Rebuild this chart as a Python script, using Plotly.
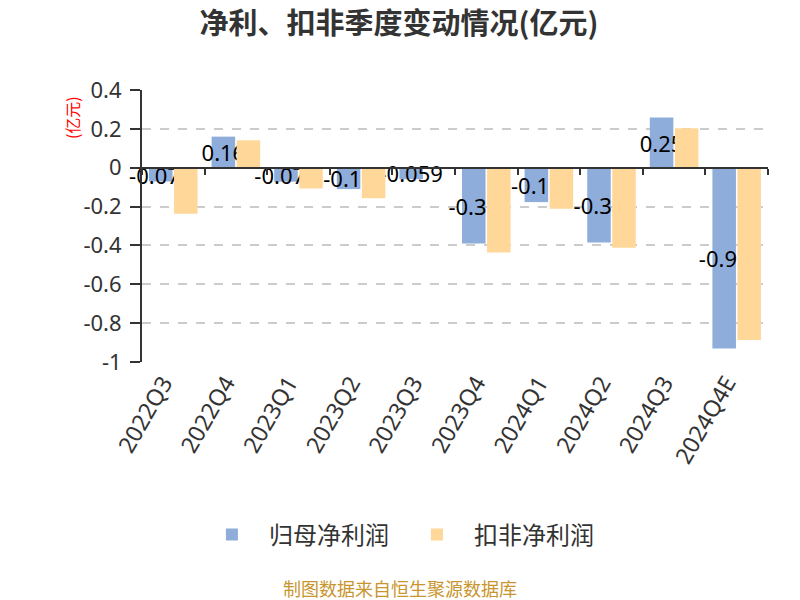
import plotly.graph_objects as go

categories = ["2022Q3", "2022Q4", "2023Q1", "2023Q2", "2023Q3",
              "2023Q4", "2024Q1", "2024Q2", "2024Q3", "2024Q4E"]
net_profit = [-0.071, 0.16, -0.072, -0.11, -0.059, -0.39, -0.177, -0.385, 0.258, -0.93]
net_profit_labels = ["-0.071", "0.16", "-0.072", "-0.11", "-0.059",
                     "-0.39", "-0.17", "-0.38", "0.25", "-0.93"]
deducted_profit = [-0.237, 0.141, -0.107, -0.157, -0.005, -0.437, -0.211, -0.412, 0.203, -0.887]
y_ticks = [0.4, 0.2, 0, -0.2, -0.4, -0.6, -0.8, -1]
y_tick_text = ["0.4", "0.2", "0", "-0.2", "-0.4", "-0.6", "-0.8", "-1"]

FONT = "Noto Sans, Noto Sans CJK SC"
CJK = "Noto Sans CJK SC"
BLUE = "#8EADDB"
ORANGE = "#FFD899"

xs = list(range(len(categories)))

fig = go.Figure()
fig.add_trace(go.Bar(
    x=xs, y=net_profit, name="归母净利润",
    marker=dict(color=BLUE, line=dict(width=0)),
    text=net_profit_labels, textposition="inside", insidetextanchor="middle",
    constraintext="none", textangle=0, cliponaxis=False,
    textfont=dict(family=FONT, size=22, color="#000000"),
))
fig.add_trace(go.Bar(
    x=xs, y=deducted_profit, name="扣非净利润",
    marker=dict(color=ORANGE, line=dict(width=0)),
))

fig.update_layout(
    width=800, height=600,
    margin=dict(l=134, r=40, t=82, b=246, autoexpand=False),
    plot_bgcolor="white", paper_bgcolor="white",
    font=dict(family=FONT, color="#333333"),
    barmode="group", bargap=0.2, bargroupgap=0.06,
    title=dict(text="<b>净利、扣非季度变动情况(亿元)</b>", x=391 / 800, xanchor="center",
               y=1 - 16 / 600, yanchor="middle", font=dict(size=29, color="#333333", family=CJK)),
    xaxis=dict(
        range=[-0.5, len(categories) - 0.5], tickmode="array", tickvals=xs,
        ticktext=categories, tickangle=-60, ticks="", showline=False,
        showgrid=False, zeroline=False, automargin=False,
        ticklabelshift=-10, ticklabelstandoff=2,
        tickfont=dict(size=23, color="#333333", family=FONT),
    ),
    xaxis2=dict(
        overlaying="x", anchor="free", position=1 / 1.4, side="bottom",
        range=[-0.5, len(categories) - 0.5], tickmode="array",
        tickvals=[i - 0.5 for i in range(len(categories) + 1)],
        showticklabels=False, ticks="outside", ticklen=6, tickwidth=2,
        tickcolor="#333333", showline=True, linecolor="#333333", linewidth=2,
        showgrid=False, zeroline=False, automargin=False,
    ),
    yaxis=dict(
        range=[-1, 0.4], tickmode="array", tickvals=y_ticks, ticktext=y_tick_text,
        ticks="outside", ticklen=10, tickwidth=2, tickcolor="#333333",
        showline=True, linecolor="#333333", linewidth=2,
        showgrid=True, gridcolor="#CCCCCC", griddash="dash", gridwidth=1.5,
        zeroline=False, automargin=False, ticklabelstandoff=4,
        tickfont=dict(size=22, color="#333333", family=FONT),
    ),
    legend=dict(orientation="h", x=0.412, xanchor="center", y=-0.636, yanchor="middle",
                itemwidth=64, entrywidth=126, entrywidthmode="pixels",
                font=dict(size=24, color="#333333", family=CJK)),
    showlegend=True,
)

# empty trace to activate xaxis2 (no visible marks)
fig.add_trace(go.Scatter(x=[None], y=[None], xaxis="x2", showlegend=False, hoverinfo="skip"))

fig.add_annotation(text="(亿元)", xref="paper", yref="paper", x=-0.112, y=0.9,
                   textangle=-90, showarrow=False, xanchor="center", yanchor="middle",
                   font=dict(size=16, color="#FF0000", family=CJK))
fig.add_annotation(text="制图数据来自恒生聚源数据库", xref="paper", yref="paper",
                   x=(392 - 134) / 626, y=-0.831, showarrow=False, xanchor="center",
                   yanchor="middle", font=dict(size=18, color="#C9952E", family=CJK))

fig.write_html("out.html")
